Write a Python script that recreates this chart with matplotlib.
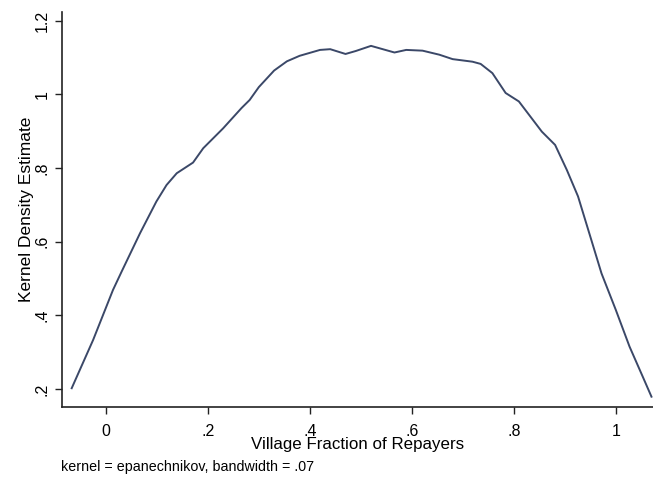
import matplotlib
matplotlib.use("Agg")
import matplotlib.pyplot as plt

# Kernel density curve
x_vals = [-0.067, -0.025, 0.014, 0.031, 0.067, 0.099, 0.119, 0.139, 0.171, 0.191,
          0.23, 0.266, 0.282, 0.30, 0.33, 0.355, 0.38, 0.42, 0.44, 0.47, 0.49,
          0.52, 0.543, 0.566, 0.589, 0.621, 0.654, 0.68, 0.719, 0.735, 0.758,
          0.784, 0.81, 0.855, 0.881, 0.904, 0.926, 0.952, 0.972, 1.0, 1.027,
          1.053, 1.07]
density = [0.202, 0.333, 0.469, 0.519, 0.623, 0.709, 0.754, 0.786, 0.815, 0.854,
           0.908, 0.963, 0.985, 1.02, 1.065, 1.09, 1.105, 1.121, 1.123, 1.110, 1.118,
           1.132, 1.123, 1.114, 1.121, 1.119, 1.108, 1.096, 1.089, 1.083, 1.058,
           1.004, 0.981, 0.899, 0.863, 0.795, 0.723, 0.605, 0.514, 0.415, 0.315,
           0.233, 0.179]

x_ticks = [0, 0.2, 0.4, 0.6, 0.8, 1.0]
x_tick_labels = ["0", ".2", ".4", ".6", ".8", "1"]
y_ticks = [0.2, 0.4, 0.6, 0.8, 1.0, 1.2]
y_tick_labels = [".2", ".4", ".6", ".8", "1", "1.2"]

plt.rcParams['font.family'] = ['Liberation Sans', 'DejaVu Sans']

fig = plt.figure(figsize=(6.53, 4.82), dpi=100)
ax = fig.add_axes([62/653, 1 - 407/482, 1 - 62/653, (407 - 12)/482])
ax.plot(x_vals, density, color="#3b4868", lw=1.4)

ax.set_xlim(-0.086, 1.073)
ax.set_ylim(0.151, 1.224)
ax.set_xticks(x_ticks)
ax.set_xticklabels(x_tick_labels, fontsize=11.5)
ax.set_yticks(y_ticks)
ax.set_yticklabels(y_tick_labels, fontsize=11.5, rotation=90, va="center")
ax.tick_params(axis="x", direction="out", length=5, width=1, color="#222222", pad=7)
ax.tick_params(axis="y", direction="out", length=5, width=1, color="#222222", pad=4)
for s in ["top", "right"]:
    ax.spines[s].set_visible(False)
for s in ["left", "bottom"]:
    ax.spines[s].set_linewidth(1.2)
    ax.spines[s].set_color("#222222")

ax.set_xlabel("Village Fraction of Repayers", fontsize=12.2, labelpad=-1)
ax.set_ylabel("Kernel Density Estimate", fontsize=12.5, labelpad=0)
fig.text(61/653, 1 - 467/482, "kernel = epanechnikov, bandwidth = .07", fontsize=10.3,
         va="center", ha="left")

fig.savefig("out.png", dpi=100)
